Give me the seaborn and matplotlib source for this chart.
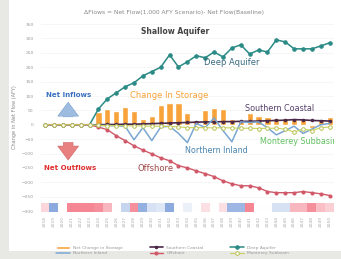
import numpy as np
import pandas as pd
import matplotlib
matplotlib.use('Agg')
import matplotlib.pyplot as plt
import seaborn as sns

# values (1,000 AFY), one per year
years = list(range(2018, 2051))
storage = [0, 0, 0, 0, 0, 0, 45, 55, 49, 62, 49, 21, 31, 69, 76, 76, 42, 15,
           52, 59, 55, 20, 17, 42, 30, 28, 24, 24, 21, 21, -10, 15, 28]
deep_aquifer = [0, 0, 0, 0, 0, 0, 55, 90, 111, 132, 146, 170, 185, 200, 243, 201, 219,
                240, 233, 253, 236, 267, 278, 246, 260, 253, 295, 288, 264, 264, 264, 274, 285]
offshore = [0, 0, 0, 0, 0, 0, -8, -17, -38, -55, -73, -88, -101, -115, -125, -142, -150,
            -160, -170, -180, -195, -205, -212, -212, -219, -232, -236, -236, -236, -232,
            -236, -240, -246]
northern_inland = [0, 0, 0, 0, 0, 0, -3, -2, -4, -5, -52, -10, -55, -8, -5, -30, -62,
                   5, -10, 24, -20, -59, 10, 8, 10, -10, -35, -20, -5, -30, -15, 0, 5]
southern_coastal = [0, 0, 0, 0, 0, 0, 0, 1, 1, 2, 2, 3, 4, 5, 6, 7, 8, 9, 10, 10, 11,
                    11, 12, 12, 13, 14, 15, 16, 18, 17, 15, 14, 13]
monterey = [0, 0, 0, 0, 0, 0, -2, -3, -3, -3, -4, -4, -5, -5, -6, -7, -10, -10, -10, -11,
            -10, -11, -12, -12, -13, -12, -12, -15, -25, -15, -20, -10, -8]
year_type = [0.25, -0.7, 0, 0.75, 0.75, 0.75, 0.7, 0.45, 0, -0.35, 0.7, -0.65, -0.25,
             -0.2, -0.7, 0, -0.12, 0, 0.2, 0, 0.2, -0.6, -0.6, 0.75, 0, 0, -0.25, -0.25,
             0.45, 0.45, 0.7, 0.4, 0.3]

x = np.arange(len(years))
sns.set_style('white')
plt.rcParams['font.family'] = ['DejaVu Sans']

fig = plt.figure(figsize=(3.41, 2.59), dpi=100)
fig.patch.set_facecolor('#e8e8e4')
bg = fig.add_axes([0.025, 0.03, 0.975, 0.97])
bg.set_facecolor('white')
bg.set_xticks([]); bg.set_yticks([])
for s in bg.spines.values():
    s.set_visible(False)

ax = fig.add_axes([0.119, 0.185, 0.861, 0.722])
ax.set_facecolor('none')
sns.barplot(x=x, y=storage, color='#f7a23a', width=0.7, ax=ax, saturation=1,
            label='Net Change in Storage')
sns.lineplot(x=x, y=southern_coastal, color='#4a2848', lw=1.2, marker='o', ms=1.8,
             mec='#4a2848', ax=ax, label='Southern Coastal')
sns.lineplot(x=x, y=deep_aquifer, color='#2a8a85', lw=1.1, marker='o', ms=2.5,
             mec='#2a8a85', ax=ax, label='Deep Aquifer')
sns.lineplot(x=x, y=northern_inland, color='#7aa6d2', lw=1.1, ax=ax, label='Northern Inland')
sns.lineplot(x=x, y=offshore, color='#d05868', lw=1.0, marker='o', ms=2.2, mec='#d05868',
             ax=ax, label='Offshore')
sns.lineplot(x=x, y=monterey, color='#c8d25a', lw=0.8, marker='o', ms=2.6, mfc='white',
             mec='#b8c050', mew=0.7, ax=ax, label='Monterey Subbasin')

ax.set_xlim(-0.5, len(years) - 0.5)
ax.set_ylim(-300, 350)
ax.set_yticks(range(-300, 351, 50))
ax.tick_params(axis='y', labelsize=3.2, labelcolor='#999999', length=0, pad=5)
ax.set_xticks([])
ax.yaxis.grid(True, color='#f3f3f3', lw=0.5)
for s in ax.spines.values():
    s.set_visible(False)
ax.set_ylabel('Change in Net Flow (AFY)', fontsize=3.6, color='#888888', labelpad=3)

# annotations
ax.text(14.6, 323, 'Shallow Aquifer', fontsize=5.5, color='#444444', weight='bold',
        ha='center', va='center')
ax.text(21, 215, 'Deep Aquifer', fontsize=6, color='#3a6a80', ha='center', va='center')
ax.text(14, 103, 'Change In Storage', fontsize=6, color='#f7a23a', ha='center', va='center')
ax.text(26.4, 55, 'Southern Coastal', fontsize=5.8, color='#55406a', ha='center', va='center')
ax.text(19.3, -88, 'Northern Inland', fontsize=5.8, color='#4a85b0', ha='center', va='center')
ax.text(24.2, -57, 'Monterey Subbasin', fontsize=5.8, color='#60c060', ha='left',
        va='center', clip_on=True)
ax.text(12.4, -151, 'Offshore', fontsize=6, color='#a04848', ha='center', va='center')
ax.text(2.6, 103, 'Net Inflows', fontsize=5, color='#3a70c0', weight='bold',
        ha='center', va='center')
ax.text(2.8, -151, 'Net Outflows', fontsize=5, color='#e03030', weight='bold',
        ha='center', va='center')
ax.annotate('', xy=(2.6, 88), xytext=(2.6, 18),
            arrowprops=dict(arrowstyle='simple,head_width=1.5,head_length=1.0,tail_width=0.7',
                            fc='#9ebce0', ec='#7aa0d0', lw=0.4))
ax.annotate('', xy=(2.6, -132), xytext=(2.6, -52),
            arrowprops=dict(arrowstyle='simple,head_width=1.5,head_length=1.0,tail_width=0.7',
                            fc='#e88080', ec='#d06060', lw=0.4))

# legend: 2 rows x 3 columns, filled column by column
h, l = ax.get_legend_handles_labels()
order = ['Net Change in Storage', 'Northern Inland', 'Southern Coastal', 'Offshore',
         'Deep Aquifer', 'Monterey Subbasin']
hd = dict(zip(l, h))
ax.legend([hd[k] for k in order], order, ncol=3, fontsize=3.2, frameon=False,
          loc='upper center', bbox_to_anchor=(0.45, -0.165), handlelength=3,
          columnspacing=6, labelspacing=0.3, labelcolor='#999999')

fig.text(0.51, 0.95, '\u0394Flows = Net Flow(1,000 AFY Scenario)- Net Flow(Baseline)',
         fontsize=4.3, color='#888888', ha='center', va='center')

# year-type strip
hax = fig.add_axes([0.119, 0.181, 0.861, 0.035])
cmap = sns.blend_palette(['#5b86d0', '#ffffff', '#f06070'], as_cmap=True)
sns.heatmap(pd.DataFrame([year_type], columns=years), ax=hax, cmap=cmap, vmin=-1, vmax=1,
            cbar=False, yticklabels=False, xticklabels=years)
hax.tick_params(axis='x', labelsize=3.2, labelcolor='#aaaaaa', length=0, rotation=90, pad=3)
hax.set_xlabel('')

fig.savefig('out.png', dpi=100, facecolor=fig.get_facecolor())
